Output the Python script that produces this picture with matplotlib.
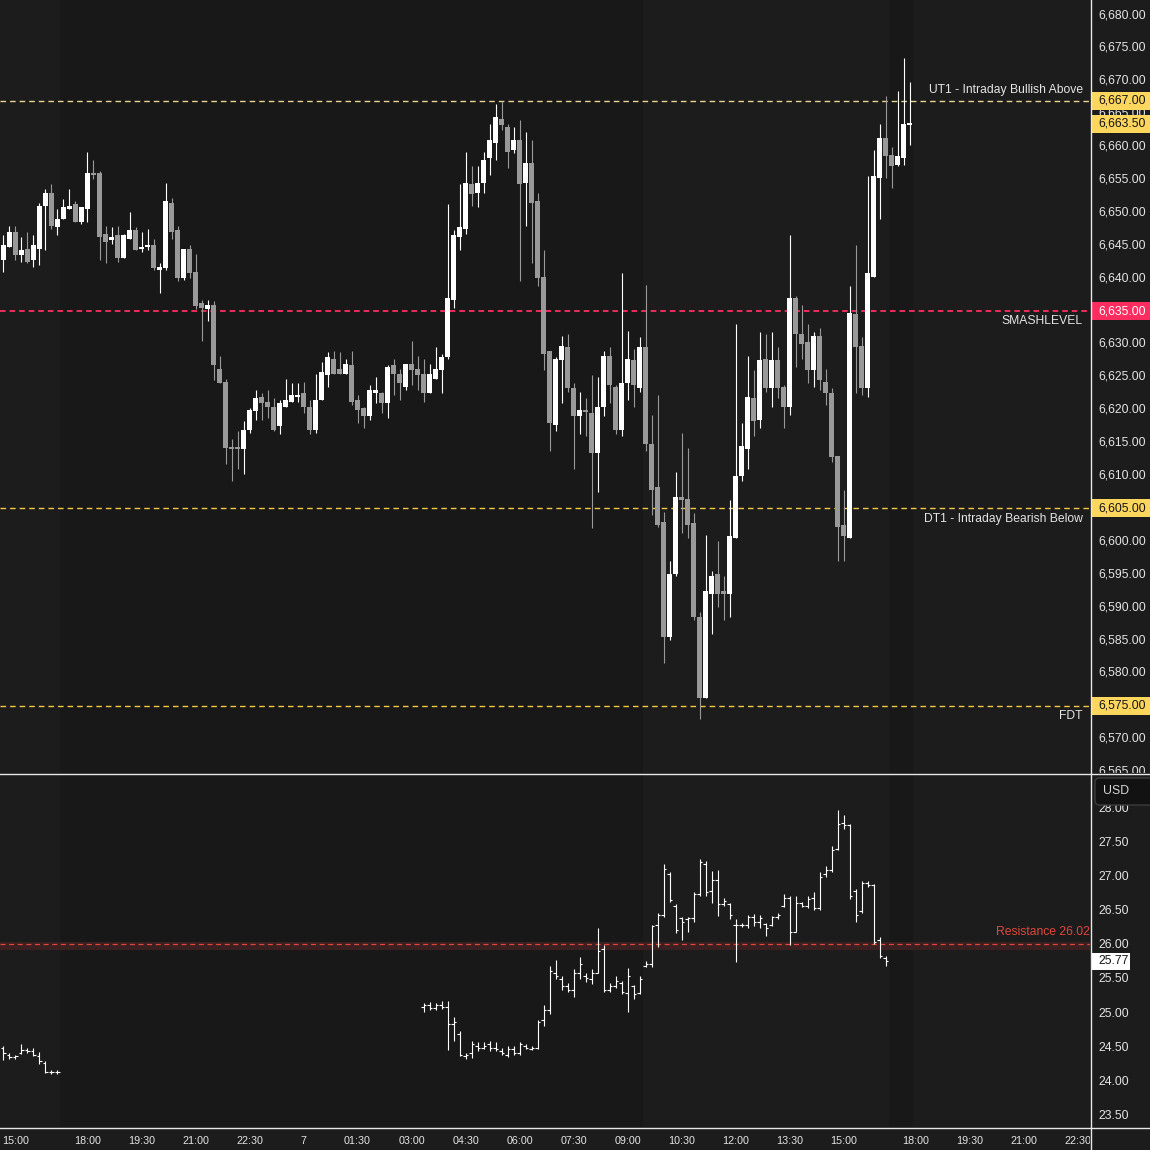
import datetime as dt
import matplotlib
matplotlib.use("Agg")
import matplotlib.pyplot as plt
from matplotlib import font_manager as fm
from matplotlib.patches import Rectangle, FancyBboxPatch
from matplotlib.lines import Line2D
from matplotlib.textpath import TextToPath

# ---------------- data ----------------
es_open = [
    6642.75, 6644.75, 6647.0, 6643.5, 6644.5, 6642.75, 6644.5, 6651.0, 6653.0, 6647.75,
    6649.0, 6650.5, 6651.25, 6648.5, 6650.5, 6656.0, 6656.0, 6646.75, 6645.75, 6646.5,
    6643.0, 6646.0, 6647.25, 6644.5, 6644.75, 6645.0, 6641.25, 6641.5, 6651.5, 6647.25,
    6640.0, 6644.5, 6641.0, 6636.25, 6635.25, 6636.0, 6626.25, 6624.25, 6614.25, 6614.25,
    6614.0, 6617.0, 6619.75, 6622.0, 6621.25, 6620.5, 6617.5, 6620.5, 6621.25, 6622.0,
    6622.5, 6620.5, 6617.0, 6621.5, 6625.25, 6627.75, 6626.25, 6625.5, 6626.75, 6621.5,
    6620.25, 6619.0, 6622.5, 6622.5, 6621.0, 6626.75, 6625.5, 6623.5, 6627.0, 6626.25,
    6625.5, 6622.5, 6624.75, 6626.0, 6628.0, 6636.75, 6646.25, 6647.5, 6654.25, 6653.0,
    6654.5, 6658.25, 6660.5, 6664.25, 6663.0, 6659.5, 6661.0, 6654.5, 6657.5, 6651.75,
    6640.25, 6629.0, 6617.75, 6627.5, 6629.5, 6623.25, 6619.0, 6620.0, 6619.5, 6613.5,
    6620.5, 6628.25, 6623.5, 6617.0, 6624.0, 6627.5, 6623.25, 6629.5, 6614.75, 6608.25,
    6603.0, 6585.5, 6595.0, 6606.75, 6606.5, 6602.75, 6588.5, 6576.25, 6592.0, 6595.0,
    6592.5, 6592.0, 6600.5, 6610.0, 6614.0, 6621.75, 6618.5, 6627.75, 6623.25, 6627.5,
    6623.5, 6620.5, 6637.0, 6631.5, 6630.25, 6626.0, 6631.25, 6624.25, 6622.5, 6613.0,
    6602.5, 6600.5, 6634.5, 6629.75, 6623.25, 6640.25, 6655.25, 6661.25, 6658.75, 6657.25,
    6658.25, 6663.25]
es_high = [
    6646.5, 6648.0, 6648.0, 6646.25, 6647.0, 6646.5, 6651.5, 6653.5, 6654.25, 6650.5,
    6652.0, 6653.5, 6651.75, 6650.75, 6659.25, 6658.0, 6656.25, 6648.0, 6647.75, 6648.0,
    6646.75, 6650.0, 6647.75, 6647.0, 6647.5, 6646.0, 6642.25, 6654.5, 6652.25, 6648.0,
    6644.5, 6645.0, 6643.75, 6636.75, 6636.75, 6636.5, 6628.25, 6624.75, 6615.5, 6616.75,
    6618.25, 6620.25, 6623.0, 6622.5, 6623.0, 6621.75, 6621.5, 6624.75, 6624.0, 6624.0,
    6624.25, 6621.5, 6625.5, 6627.25, 6628.75, 6629.0, 6628.75, 6627.75, 6629.0, 6622.25,
    6620.5, 6623.75, 6625.0, 6622.75, 6626.75, 6627.75, 6626.25, 6627.0, 6630.5, 6628.25,
    6627.75, 6627.0, 6629.5, 6628.5, 6651.25, 6647.25, 6654.25, 6659.25, 6657.0, 6657.0,
    6659.25, 6663.5, 6666.5, 6667.0, 6663.5, 6663.0, 6664.0, 6662.25, 6661.0, 6653.0,
    6644.25, 6629.0, 6628.0, 6631.25, 6631.5, 6624.0, 6622.75, 6621.75, 6625.25, 6625.0,
    6629.0, 6629.5, 6623.75, 6640.75, 6632.0, 6629.25, 6631.0, 6639.0, 6619.25, 6622.25,
    6604.5, 6597.0, 6610.5, 6616.5, 6614.25, 6604.25, 6589.25, 6601.0, 6595.5, 6600.0,
    6594.75, 6606.25, 6633.0, 6618.0, 6628.25, 6626.0, 6631.75, 6631.5, 6631.75, 6629.5,
    6623.75, 6646.5, 6637.25, 6636.0, 6633.0, 6631.75, 6632.5, 6626.25, 6623.25, 6613.0,
    6607.75, 6638.75, 6645.0, 6631.0, 6655.5, 6659.5, 6663.5, 6667.75, 6660.0, 6668.5,
    6673.5, 6669.75]
es_low = [
    6641.0, 6644.75, 6642.75, 6642.5, 6642.25, 6641.75, 6642.0, 6644.25, 6647.5, 6646.5,
    6649.0, 6650.5, 6648.5, 6648.25, 6648.5, 6655.0, 6642.75, 6642.25, 6645.25, 6642.5,
    6643.0, 6646.0, 6644.25, 6644.0, 6644.25, 6641.25, 6637.75, 6641.25, 6646.0, 6639.5,
    6639.75, 6640.0, 6635.25, 6630.5, 6633.5, 6624.5, 6624.0, 6611.75, 6609.25, 6611.0,
    6610.25, 6616.5, 6618.5, 6618.5, 6618.75, 6616.75, 6616.25, 6620.5, 6621.25, 6621.25,
    6619.5, 6616.25, 6616.5, 6621.5, 6623.5, 6625.5, 6625.5, 6625.5, 6620.75, 6618.0,
    6617.25, 6618.5, 6621.0, 6619.5, 6618.75, 6622.25, 6621.5, 6623.0, 6623.75, 6623.0,
    6621.25, 6622.5, 6624.75, 6622.5, 6627.75, 6635.5, 6644.25, 6646.75, 6651.0, 6650.75,
    6653.0, 6655.75, 6658.0, 6662.5, 6656.75, 6659.0, 6639.5, 6648.0, 6642.25, 6638.75,
    6626.0, 6613.75, 6616.75, 6621.0, 6622.75, 6611.0, 6616.25, 6616.0, 6602.0, 6607.5,
    6619.0, 6621.0, 6616.25, 6616.0, 6621.5, 6620.5, 6622.75, 6613.75, 6604.0, 6602.25,
    6581.5, 6585.0, 6594.75, 6601.25, 6600.5, 6588.0, 6573.0, 6576.25, 6586.0, 6590.0,
    6588.0, 6588.5, 6600.5, 6609.25, 6611.0, 6616.0, 6617.25, 6622.75, 6620.5, 6621.75,
    6617.25, 6619.25, 6626.5, 6627.75, 6624.0, 6623.5, 6623.0, 6620.75, 6612.0, 6597.0,
    6597.0, 6600.5, 6622.5, 6622.25, 6622.0, 6640.25, 6649.0, 6655.25, 6653.75, 6657.0,
    6657.25, 6660.25]
es_close = [
    6645.0, 6647.0, 6643.5, 6644.25, 6642.5, 6645.0, 6651.0, 6653.0, 6648.0, 6649.0,
    6650.75, 6651.0, 6648.5, 6650.75, 6656.0, 6655.75, 6646.25, 6645.5, 6646.25, 6643.0,
    6646.5, 6647.25, 6644.25, 6644.75, 6645.0, 6641.5, 6641.75, 6651.75, 6647.0, 6640.0,
    6644.5, 6640.75, 6635.75, 6635.5, 6636.0, 6626.75, 6624.0, 6614.25, 6614.0, 6614.0,
    6617.0, 6620.0, 6621.75, 6621.0, 6620.5, 6617.0, 6621.0, 6621.5, 6622.25, 6622.25,
    6620.5, 6617.0, 6621.5, 6625.75, 6628.0, 6625.5, 6625.5, 6627.0, 6621.25, 6620.0,
    6619.0, 6623.0, 6623.0, 6621.0, 6626.5, 6625.5, 6624.0, 6627.0, 6626.0, 6625.25,
    6622.5, 6625.5, 6626.25, 6628.0, 6637.0, 6646.5, 6647.75, 6654.5, 6652.75, 6654.5,
    6658.0, 6661.0, 6664.5, 6663.25, 6659.25, 6661.0, 6654.25, 6657.5, 6651.5, 6640.0,
    6628.5, 6618.0, 6627.75, 6629.75, 6623.25, 6619.0, 6620.0, 6619.75, 6613.5, 6620.5,
    6628.25, 6623.75, 6617.0, 6624.0, 6627.75, 6623.75, 6629.5, 6614.75, 6607.75, 6602.5,
    6585.5, 6595.0, 6606.75, 6606.25, 6602.5, 6588.5, 6576.25, 6592.5, 6594.75, 6592.0,
    6592.0, 6600.75, 6610.0, 6614.5, 6622.0, 6618.25, 6627.5, 6623.25, 6627.5, 6623.25,
    6620.5, 6637.0, 6631.5, 6630.0, 6626.0, 6631.25, 6624.5, 6622.5, 6612.75, 6602.25,
    6600.75, 6634.75, 6629.5, 6623.25, 6640.75, 6655.5, 6661.25, 6658.5, 6657.0, 6658.5,
    6663.5, 6663.5]

# VIX, two sessions (10-minute bars)
vix_a_start = "2025-11-06 14:40"
vix_a_open = [24.50, 24.40, 24.36, 24.42, 24.47, 24.45, 24.38, 24.28, 24.15, 24.15]
vix_a_high = [24.53, 24.42, 24.40, 24.56, 24.50, 24.50, 24.43, 24.30, 24.18, 24.18]
vix_a_low = [24.32, 24.34, 24.33, 24.41, 24.42, 24.38, 24.26, 24.13, 24.12, 24.12]
vix_a_close = [24.42, 24.37, 24.38, 24.47, 24.45, 24.40, 24.30, 24.15, 24.14, 24.14]

vix_b_start = "2025-11-07 03:20"
vix_b_open = [
    25.10, 25.12, 25.08, 25.12, 25.10, 24.85, 24.70, 24.38, 24.42, 24.52,
    24.50, 24.55, 24.50, 24.45, 24.40, 24.48, 24.42, 24.52, 24.48, 24.50,
    24.90, 25.05, 25.60, 25.50, 25.40, 25.35, 25.60, 25.55, 25.50, 25.60,
    25.95, 25.35, 25.40, 25.45, 25.30, 25.40, 25.30, 25.70, 25.72, 26.30,
    26.45, 27.05, 26.58, 26.40, 26.38, 26.40, 26.75, 27.20, 26.80, 26.96,
    26.60, 26.60, 26.30, 26.30, 26.30, 26.42, 26.35, 26.32, 26.30, 26.42,
    26.58, 26.70, 26.20, 26.62, 26.58, 26.70, 26.55, 27.05, 27.10, 27.42,
    27.80, 27.76, 26.80, 26.50, 26.92, 26.88, 26.08, 25.82]
vix_b_high = [
    25.15, 25.17, 25.16, 25.18, 25.19, 24.95, 24.75, 24.42, 24.60, 24.58,
    24.58, 24.60, 24.58, 24.50, 24.52, 24.52, 24.58, 24.55, 24.52, 24.90,
    25.12, 25.70, 25.78, 25.55, 25.45, 25.65, 25.83, 25.60, 25.66, 26.26,
    26.00, 25.45, 25.55, 25.48, 25.67, 25.42, 25.55, 25.77, 26.30, 26.47,
    27.20, 27.08, 26.60, 26.42, 26.42, 26.78, 27.26, 27.23, 27.09, 27.10,
    26.70, 26.62, 26.38, 26.33, 26.45, 26.46, 26.45, 26.33, 26.43, 26.47,
    26.75, 26.72, 26.72, 26.64, 26.72, 26.78, 27.08, 27.17, 27.46, 27.99,
    27.91, 27.78, 26.83, 26.94, 26.95, 26.90, 26.13, 25.84]
vix_b_low = [
    25.03, 25.05, 25.05, 25.06, 24.47, 24.60, 24.38, 24.33, 24.35, 24.45,
    24.48, 24.45, 24.45, 24.40, 24.37, 24.40, 24.40, 24.48, 24.47, 24.48,
    24.82, 25.00, 25.50, 25.35, 25.32, 25.25, 25.50, 25.46, 25.44, 25.60,
    25.32, 25.32, 25.38, 25.28, 25.02, 25.22, 25.28, 25.68, 25.68, 25.98,
    26.42, 26.64, 26.18, 26.08, 26.20, 26.35, 26.72, 26.72, 26.62, 26.43,
    26.58, 26.38, 25.75, 26.27, 26.25, 26.28, 26.25, 26.14, 26.28, 26.38,
    26.56, 26.00, 26.20, 26.57, 26.55, 26.52, 26.52, 27.00, 27.08, 27.40,
    27.70, 26.68, 26.35, 26.48, 26.85, 26.02, 25.82, 25.70]
vix_b_close = [
    25.12, 25.08, 25.12, 25.10, 24.85, 24.88, 24.40, 24.40, 24.55, 24.50,
    24.52, 24.50, 24.48, 24.42, 24.48, 24.42, 24.55, 24.50, 24.50, 24.88,
    25.05, 25.62, 25.55, 25.40, 25.35, 25.60, 25.72, 25.52, 25.60, 25.92,
    25.35, 25.40, 25.48, 25.32, 25.55, 25.28, 25.50, 25.72, 26.28, 26.45,
    27.12, 26.66, 26.22, 26.35, 26.40, 26.75, 27.22, 26.78, 26.96, 26.60,
    26.65, 26.45, 26.30, 26.30, 26.42, 26.35, 26.40, 26.25, 26.42, 26.45,
    26.70, 26.20, 26.62, 26.58, 26.68, 26.55, 27.00, 27.10, 27.40, 27.78,
    27.76, 26.72, 26.45, 26.92, 26.88, 26.05, 25.85, 25.77]

level_values = [6667.0, 6635.0, 6605.0, 6575.0]
level_names = ["UT1 - Intraday Bullish Above", "SMASHLEVEL",
               "DT1 - Intraday Bearish Below", "FDT"]
level_colors = ["#e8d690", "#ff2d5f", "#f4c842", "#f4c842"]
level_box_colors = ["#fdd65e", "#ff2d5f", "#fdd65e", "#fdd65e"]
level_text_above = [True, False, False, False]
resistance_value = 26.02
last_price = 6663.50
last_vix = 25.77
price_ticks = [6565 + 5 * k for k in range(24)]
vix_ticks = [23.5, 24.0, 24.5, 25.0, 25.5, 26.0, 26.5, 27.0, 27.5, 28.0]
time_labels = ["15:00", "18:00", "19:30", "21:00", "22:30", "7", "01:30", "03:00",
               "04:30", "06:00", "07:30", "09:00", "10:30", "12:00", "13:30", "15:00",
               "18:00", "19:30", "21:00", "22:30"]

# ---------------- fonts (size chosen so label widths match) ----------------
FONT = "Liberation Sans"
for cand in ["Liberation Sans Narrow", "Liberation Sans"]:
    try:
        fm.findfont(fm.FontProperties(family=cand), fallback_to_default=False)
        FONT = cand
        break
    except Exception:
        pass
plt.rcParams["font.family"] = [FONT, "DejaVu Sans"]
_ttp = TextToPath()


def text_px(s, size, weight="normal"):
    prop = fm.FontProperties(family=FONT, size=size, weight=weight)
    w, h, d = _ttp.get_text_width_height_descent(s, prop, ismath=False)
    return w * 100 / 72


FS = 10 * 47.5 / text_px("6,680.00", 10)
FS_T = 10 * 27.0 / text_px("15:00", 10)
FS_L = 10 * 153.0 / text_px("UT1 - Intraday Bullish Above", 10)

# ---------------- time categories ----------------
t = dt.datetime(2025, 11, 6, 14, 40)
times = []
while len(times) < 200:
    if t.hour != 17:
        times.append(t)
    t += dt.timedelta(minutes=10)
n = len(es_open)
stamp = [tt.strftime("%Y-%m-%d %H:%M") for tt in times]


def lab(tt):
    return str(tt.day) if (tt.hour == 0 and tt.minute == 0) else tt.strftime("%H:%M")


tick_pos = []
j = 0
for L in time_labels:
    while lab(times[j]) != L:
        j += 1
    tick_pos.append(j)
    j += 1

# ---------------- layout ----------------
W = H = 1150
FIG_BG = "#1c1c1c"
DARK = "#181818"
LIGHT = "#1c1c1c"
TXT = "#e4e4e4"

fig = plt.figure(figsize=(11.5, 11.5), dpi=100, facecolor=FIG_BG)


def rect(x0, y0, x1, y1):
    return [x0 / W, 1 - y1 / H, (x1 - x0) / W, (y1 - y0) / H]


ax = fig.add_axes(rect(0, 0, 1090, 773))
axv = fig.add_axes(rect(0, 774, 1090, 1127))
axr = fig.add_axes(rect(1091, 0, 1150, 773))
axvr = fig.add_axes(rect(1091, 774, 1150, 1127))
axt = fig.add_axes(rect(0, 1128, 1090, 1150))

XL = (-0.583, 181.08)
for a in (ax, axv, axt):
    a.set_xlim(*XL)
for a in (ax, axv, axr, axvr, axt):
    a.set_facecolor(LIGHT)
    a.set_xticks([])
    a.set_yticks([])
    for s in a.spines.values():
        s.set_visible(False)
axt.set_facecolor(FIG_BG)

ax.set_ylim(6564.8, 6682.28)
axr.set_ylim(6564.8, 6682.28)
axv.set_ylim(23.337, 28.513)
axvr.set_ylim(23.337, 28.513)
axt.set_ylim(0, 1)
axr.set_xlim(0, 1)
axvr.set_xlim(0, 1)


# session shading (overnight darker)
def is_rth(tt):
    m = tt.hour * 60 + tt.minute
    return 9 * 60 + 30 <= m <= 16 * 60 + 10


spans = []
i = 0
while i < n:
    if not is_rth(times[i]):
        k = i
        while k + 1 < n and not is_rth(times[k + 1]):
            k += 1
        spans.append((i - 0.5, k + 0.5))
        i = k + 1
    else:
        i += 1
for a in (ax, axv):
    for s0, s1 in spans:
        a.axvspan(s0, s1, color=DARK, lw=0, zorder=0)

# ---------------- candles ----------------
xs = list(range(n))
cols = ["#ffffff" if c >= o else "#999999" for o, c in zip(es_open, es_close)]
ax.vlines(xs, es_low, es_high, colors=cols, lw=0.8, zorder=3)
heights, bottoms = [], []
for o, c in zip(es_open, es_close):
    h = abs(c - o)
    if h < 0.3:
        heights.append(0.3)
        bottoms.append((o + c) / 2 - 0.15)
    else:
        heights.append(h)
        bottoms.append(min(o, c))
ax.bar(xs, heights, width=0.78, bottom=bottoms, color=cols, linewidth=0, zorder=4)

# level lines + labels
for v, name, col, above in zip(level_values, level_names, level_colors, level_text_above):
    ax.axhline(v, color=col, lw=1.3 if col == "#ff2d5f" else 1.0,
               dashes=(4, 2.9) if col != "#ff2d5f" else (3.1, 2.2), zorder=2)
    ax.annotate(name, xy=(1083 / 1090, v), xycoords=("axes fraction", "data"),
                xytext=(0, 7.3 if above else -7.3), textcoords="offset points",
                ha="right", va="center", color=TXT, fontsize=FS_L, zorder=6)

# ---------------- VIX bars ----------------
def draw_vix(start, o, h, l, c):
    p0 = stamp.index(start)
    xv = list(range(p0, p0 + len(o)))
    axv.vlines(xv, l, h, colors="white", lw=0.8, zorder=3)
    axv.hlines(o, [x - 0.4 for x in xv], xv, colors="white", lw=0.8, zorder=3)
    axv.hlines(c, xv, [x + 0.4 for x in xv], colors="white", lw=0.8, zorder=3)


draw_vix(vix_a_start, vix_a_open, vix_a_high, vix_a_low, vix_a_close)
draw_vix(vix_b_start, vix_b_open, vix_b_high, vix_b_low, vix_b_close)

axv.axhspan(resistance_value - 0.085, resistance_value + 0.035, color="#3a2020", lw=0, zorder=1)
axv.axhline(resistance_value, color="#e0463c", lw=0.9, dashes=(4, 2.9), zorder=2)
axv.annotate(f"Resistance {resistance_value:.2f}", xy=(1.0, resistance_value),
             xycoords=("axes fraction", "data"), xytext=(0, 8.5), textcoords="offset points",
             ha="right", va="center", color="#e0463c", fontsize=FS_L, zorder=6)

# ---------------- right price scales ----------------
for p in price_ticks:
    axr.text(0.12, p, f"{p:,.2f}", ha="left", va="center", color=TXT, fontsize=FS,
             clip_on=True, zorder=2)
box_h = 18 / 6.58
for v, bc in list(zip(level_values, level_box_colors)) + [(last_price, "#fdd65e")]:
    axr.add_patch(Rectangle((0.02, v - box_h / 2), 0.98, box_h, facecolor=bc, lw=0, zorder=3))
    tc = "#ffffff" if bc == "#ff2d5f" else "#151515"
    axr.text(0.12, v, f"{v:,.2f}", ha="left", va="center", color=tc, fontsize=FS, zorder=4)

for v in vix_ticks:
    axvr.text(0.12, v, f"{v:.2f}", ha="left", va="center", color=TXT, fontsize=FS,
              clip_on=True, zorder=2)
vb_h = 17 / 68.2
axvr.add_patch(Rectangle((0.02, last_vix - vb_h / 2), 0.64, vb_h, facecolor="#ffffff",
                         lw=0, zorder=3))
axvr.text(0.12, last_vix, f"{last_vix:.2f}", ha="left", va="center", color="#151515",
          fontsize=FS, zorder=4)

# USD button
usd = FancyBboxPatch((1095 / W, 1 - 805 / H), 60 / W, 27 / H,
                     boxstyle="round,pad=0,rounding_size=0.004",
                     transform=fig.transFigure, facecolor="#121212",
                     edgecolor="#3c3c3c", lw=1.0, zorder=10)
fig.add_artist(usd)
fig.text(1103 / W, 1 - 791 / H, "USD", ha="left", va="center", color="#d8d8d8",
         fontsize=FS, zorder=11)

# ---------------- time axis ----------------
for pos, L in zip(tick_pos, time_labels):
    axt.text(pos, 0.42, L, ha="center", va="center", color=TXT, fontsize=FS_T,
             clip_on=True)

# ---------------- separators ----------------
sep = "#e8e8e8"
fig.add_artist(Line2D([1090.5 / W, 1090.5 / W], [0, 1], transform=fig.transFigure,
                      color=sep, lw=1.0, zorder=20))
fig.add_artist(Line2D([0, 1], [1 - 773.5 / H] * 2, transform=fig.transFigure,
                      color=sep, lw=1.0, zorder=20))
fig.add_artist(Line2D([0, 1], [1 - 1127.5 / H] * 2, transform=fig.transFigure,
                      color=sep, lw=1.0, zorder=20))

fig.savefig("out.png", dpi=100, facecolor=FIG_BG)
